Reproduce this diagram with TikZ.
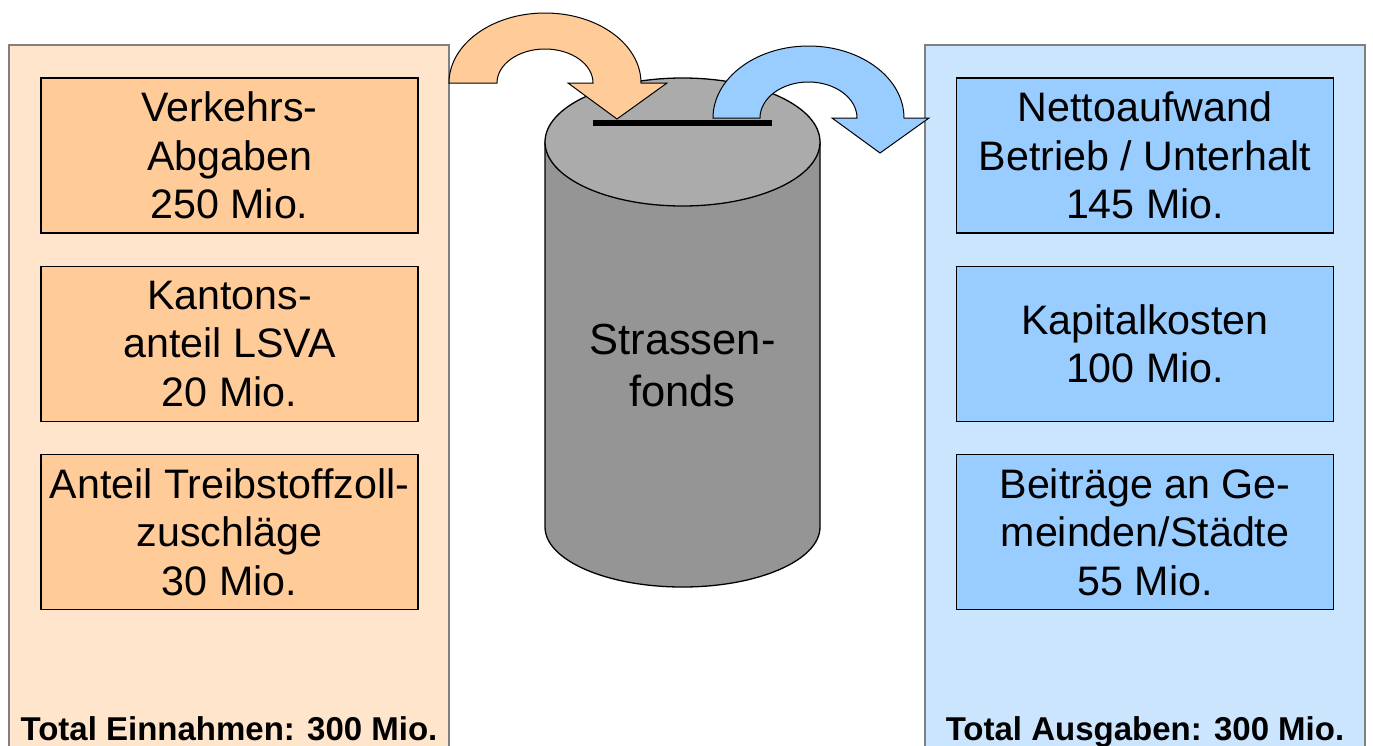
\documentclass[tikz,border=0pt]{standalone}
\usepackage{fontspec}
\setmainfont{Liberation Sans}
\definecolor{incomebg}{HTML}{FFE5CC}
\definecolor{incomebox}{HTML}{FFCC99}
\definecolor{spendbg}{HTML}{CCE5FF}
\definecolor{spendbox}{HTML}{99CCFF}
\definecolor{drumtop}{HTML}{ABABAB}
\definecolor{drumside}{HTML}{959595}
\definecolor{frame}{HTML}{808080}
\tikzset{
  panel/.style={draw=frame, line width=1.5pt, minimum width=440pt, minimum height=715pt, inner sep=0pt},
  itembox/.style={draw=black, line width=1.3pt, minimum width=377pt, minimum height=155pt,
    inner sep=0pt, align=center, font=\fontsize{41.2}{48.5}\selectfont},
  totaltext/.style={anchor=base, inner sep=0pt, font=\fontsize{33}{38}\selectfont\bfseries},
  bentarrow/.style={draw=black, line width=1pt, line join=miter},
}
\begin{document}
\begin{tikzpicture}[x=1pt, y=1pt]
\useasboundingbox (0,0) rectangle (1373,-745);
\clip (0,0) rectangle (1373,-745);

% side panels
\node[panel, fill=incomebg] (inc) at (229,-402.5) {};
\node[panel, fill=spendbg] (out) at (1145,-402.5) {};

% income items
\node[itembox, fill=incomebox] (verk) at (229.5,-155.5) {Verkehrs-\\Abgaben\\250 Mio.};
\node[itembox, fill=incomebox] (lsva) at (229.5,-344) {Kantons-\\anteil LSVA\\20 Mio.};
\node[itembox, fill=incomebox] (zoll) at (229.5,-532) {Anteil Treibstoffzoll-\\zuschläge\\30 Mio.};

% spending items
\node[itembox, fill=spendbox] (netto) at (1145,-155.5) {Nettoaufwand\\Betrieb / Unterhalt\\145 Mio.};
\node[itembox, fill=spendbox] (kap) at (1145,-344) {Kapitalkosten\\100 Mio.};
\node[itembox, fill=spendbox] (beitr) at (1145,-532) {Beiträge an Ge-\\meinden/Städte\\55 Mio.};

% totals
\node[totaltext] (tinc) at (229,-740) {Total Einnahmen: 300 Mio.};
\node[totaltext] (tout) at (1145,-740) {Total Ausgaben: 300 Mio.};

% the fund drum
\draw[line width=1.3pt, fill=drumside] (545,-142) -- (545,-527)
  arc[start angle=180, end angle=360, x radius=137.5pt, y radius=60pt] -- (820,-142) -- cycle;
\draw[line width=1.3pt, fill=drumtop] (682.5,-142) ellipse[x radius=137.5pt, y radius=64pt];
\node[align=center, font=\fontsize{43.5}{52}\selectfont] (fund) at (682.5,-366) {Strassen-\\fonds};

% coin slot
\draw[line width=5.5pt] (593,-123) -- (772,-123);

% inflow arrow
\draw[bentarrow, fill=incomebox] (449,-83)
  arc[start angle=180, end angle=0, x radius=96pt, y radius=70pt]
  -- (667,-83) -- (617,-119) -- (568,-83) -- (593,-83)
  arc[start angle=0, end angle=180, x radius=48pt, y radius=34pt] -- cycle;

% outflow arrow
\draw[bentarrow, fill=spendbox] (713,-118)
  arc[start angle=180, end angle=0, x radius=95.5pt, y radius=72pt]
  -- (929,-118) -- (880,-153) -- (832,-118) -- (857,-118)
  arc[start angle=0, end angle=180, x radius=48.5pt, y radius=36pt] -- cycle;
\end{tikzpicture}
\end{document}
